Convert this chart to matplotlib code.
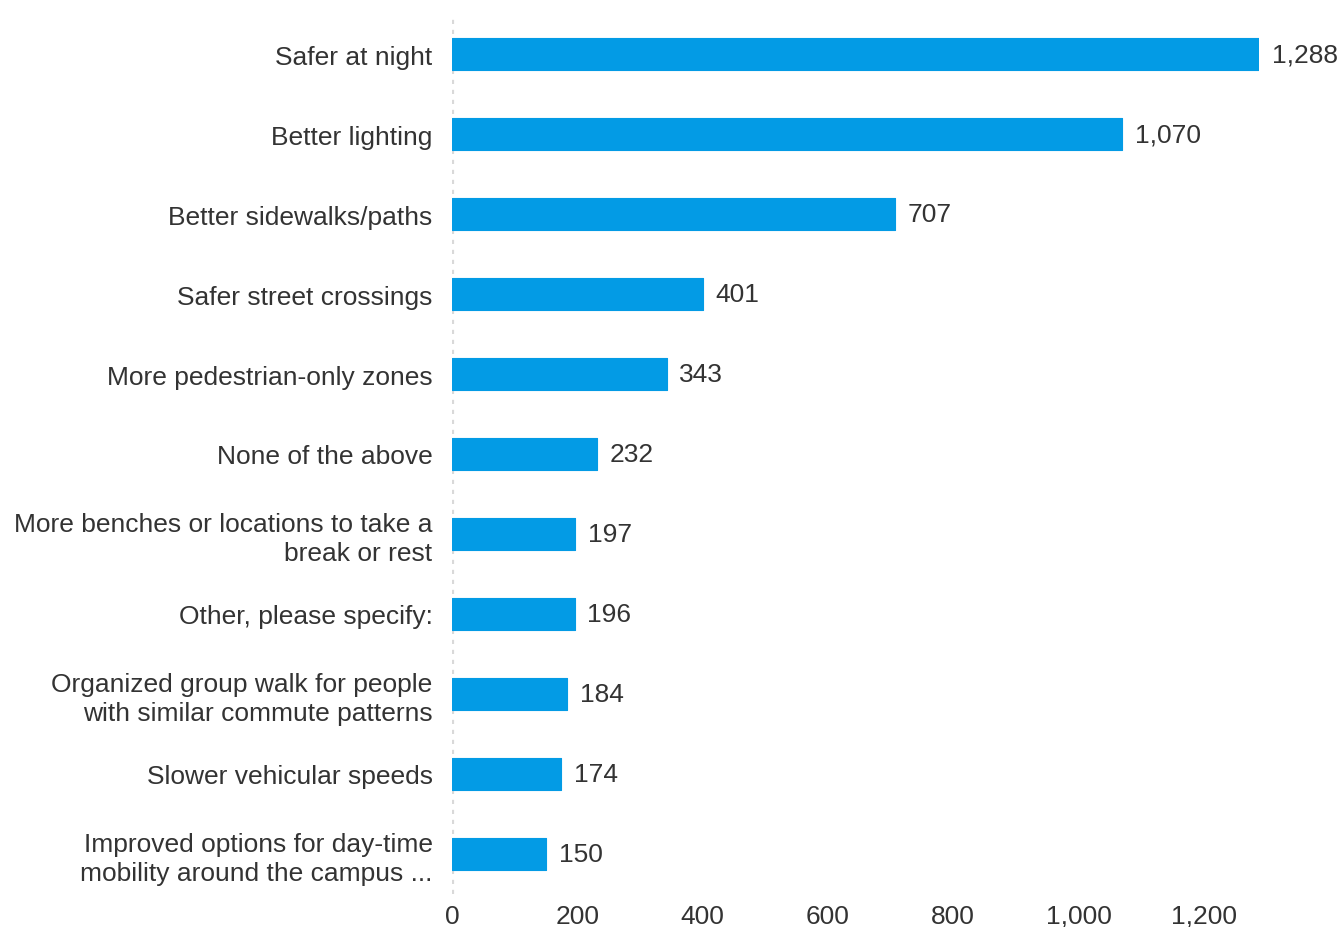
import matplotlib.pyplot as plt
from matplotlib.ticker import FuncFormatter

categories = [
    'Safer at night',
    'Better lighting',
    'Better sidewalks/paths',
    'Safer street crossings',
    'More pedestrian-only zones',
    'None of the above',
    'More benches or locations to take a\nbreak or rest',
    'Other, please specify:',
    'Organized group walk for people\nwith similar commute patterns',
    'Slower vehicular speeds',
    'Improved options for day-time\nmobility around the campus ...',
]
counts = [1288, 1070, 707, 401, 343, 232, 197, 196, 184, 174, 150]
x_ticks = [0, 200, 400, 600, 800, 1000, 1200]

plt.rcParams['font.family'] = ['Liberation Sans', 'DejaVu Sans']
text_color = '#333333'
bar_color = '#039be5'
fs = 19

fig = plt.figure(figsize=(13.39, 9.28), dpi=100)
ax = fig.add_axes([0.3376, 0.0356, 0.6027, 0.9482])

positions = list(range(len(categories)))
ax.barh(positions, counts, height=0.39, color=bar_color, edgecolor=bar_color,
        linewidth=0.8, joinstyle='round', zorder=2)

# value labels to the right of each bar
for y, v in zip(positions, counts):
    ax.annotate(f'{v:,}', xy=(v, y), xytext=(9, 0), textcoords='offset points',
                va='center', ha='left', fontsize=fs, color=text_color)

# dotted baseline at zero
ax.axvline(0, color='#d9d9d9', linewidth=3, linestyle=(0, (1, 1.4)), zorder=1)

ax.set_xlim(0, 1288)
ax.set_ylim(len(categories) - 0.5, -0.5)
ax.set_yticks(positions)
ax.set_yticklabels(categories, fontsize=fs, color=text_color, linespacing=1.25)
ax.set_xticks(x_ticks)
ax.xaxis.set_major_formatter(FuncFormatter(lambda v, p: f'{int(v):,}'))
ax.tick_params(axis='x', length=0, pad=7, labelsize=fs, labelcolor=text_color)
ax.tick_params(axis='y', length=0, pad=14)

for s in ax.spines.values():
    s.set_visible(False)

plt.savefig('out.png', dpi=100)
